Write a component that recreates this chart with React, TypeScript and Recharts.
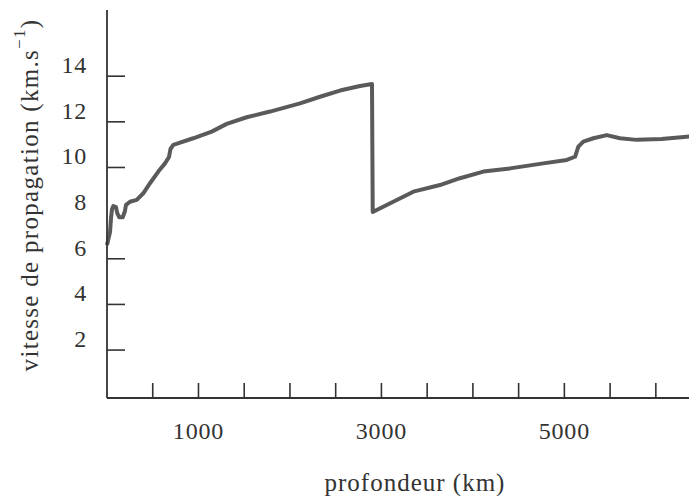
import { LineChart, Line, XAxis, YAxis, Label } from 'recharts'

// profondeur (km) / vitesse des ondes P (km/s)
const depthKm = [
  0, 33, 44, 55, 69, 98, 113, 134, 172, 194, 208, 251, 325, 397, 470, 561, 634, 678,
  694, 725, 943, 1145, 1309, 1527, 1782, 2110, 2329, 2547, 2766, 2897,
  2905, 3058, 3349, 3640, 3859, 4114, 4406, 4770, 5026, 5117, 5153, 5207, 5317,
  5463, 5608, 5791, 6061, 6338, 6450,
]
const speedKms = [
  6.6, 7.17, 7.79, 8.18, 8.31, 8.26, 7.99, 7.82, 7.82, 8.06, 8.36, 8.5, 8.58, 8.87, 9.31, 9.82, 10.18, 10.46,
  10.81, 10.99, 11.28, 11.57, 11.91, 12.2, 12.45, 12.81, 13.1, 13.37, 13.57, 13.66,
  8.05, 8.36, 8.94, 9.23, 9.53, 9.82, 9.96, 10.18, 10.33, 10.47, 10.91, 11.13, 11.28,
  11.42, 11.28, 11.21, 11.25, 11.35, 11.38,
]

const xTicks = [500, 1000, 1500, 2000, 2500, 3000, 3500, 4000, 4500, 5000, 5500, 6000]
const xTickLabels = [1000, 3000, 5000]
const yTicks = [2, 4, 6, 8, 10, 12, 14]
const yTicksHidden = [8] // marque effacée sur le scan

const data = depthKm.map((km, i) => ({ km, v: speedKms[i] }))

const INK = '#333'
const FONT = "'Liberation Serif', 'DejaVu Serif', serif"

const LeftTick = (props: any) => {
  const { x, y, payload } = props
  return (
    <g>
      {!yTicksHidden.includes(payload.value) && (
        <line x1={x} x2={x + 18} y1={y} y2={y} stroke={INK} strokeWidth={1.6} />
      )}
      <text x={x - 20} y={y - 11} textAnchor="end" dominantBaseline="central"
        fontFamily={FONT} fontSize={24} letterSpacing={0.8} fill={INK}>
        {payload.value}
      </text>
    </g>
  )
}

const RightTick = (props: any) => {
  const { x, y } = props
  return <line x1={x - 11} x2={x} y1={y + 2} y2={y + 2} stroke={INK} strokeWidth={1.6} />
}

const BottomTick = (props: any) => {
  const { x, y, payload } = props
  return (
    <g>
      <line x1={x} x2={x} y1={y - 15} y2={y} stroke={INK} strokeWidth={1.6} />
      {xTickLabels.includes(payload.value) && (
        <text x={x} y={y + 33} textAnchor="middle" dominantBaseline="central"
          fontFamily={FONT} fontSize={24} letterSpacing={0.8} fill={INK}>
          {payload.value}
        </text>
      )}
    </g>
  )
}

export default function App() {
  return (
    <div style={{ width: 689, height: 488, background: '#fff' }}>
      <LineChart width={689} height={488} data={data} margin={{ top: 2, right: 0, left: 0, bottom: 0 }}>
        <XAxis
          type="number"
          dataKey="km"
          domain={[0, 6450]}
          ticks={xTicks}
          interval={0}
          height={98}
          tickSize={0}
          tickMargin={0}
          tick={BottomTick}
          axisLine={{ stroke: INK, strokeWidth: 1.8 }}
        >
          <Label
            content={(p: any) => {
              const vb = p.viewBox
              return (
                <text x={vb.x + vb.width / 2 + 13} y={vb.y + 84} textAnchor="middle"
                  dominantBaseline="central" fontFamily={FONT} fontSize={25} letterSpacing={1}
                  fill={INK}>
                  profondeur (km)
                </text>
              )
            }}
          />
        </XAxis>
        <YAxis
          yAxisId="v"
          type="number"
          domain={[-0.1, 16.9]}
          ticks={yTicks}
          interval={0}
          width={99}
          tickSize={0}
          tickMargin={0}
          tick={LeftTick}
          axisLine={{ stroke: INK, strokeWidth: 1.8 }}
          allowDataOverflow
        >
          <Label
            content={(p: any) => {
              const vb = p.viewBox
              const cx = vb.x + 21
              const cy = vb.y + vb.height / 2 - 9
              return (
                <text x={cx} y={cy} transform={`rotate(-90 ${cx} ${cy})`} textAnchor="middle"
                  dominantBaseline="central" fontFamily={FONT} fontSize={25} letterSpacing={1.3}
                  fill={INK}>
                  vitesse de propagation (km.s
                  <tspan dy={-10} fontSize={17}>−1</tspan>
                  <tspan dy={10}>)</tspan>
                </text>
              )
            }}
          />
        </YAxis>
        <YAxis
          yAxisId="r"
          orientation="right"
          type="number"
          domain={[-0.1, 16.9]}
          ticks={yTicks}
          interval={0}
          width={0}
          tickSize={0}
          tickMargin={0}
          tick={RightTick}
          axisLine={false}
        />
        <Line
          yAxisId="v"
          type="linear"
          dataKey="v"
          stroke="#5a5a5a"
          strokeWidth={4}
          strokeLinejoin="round"
          dot={false}
          isAnimationActive={false}
        />
      </LineChart>
    </div>
  )
}
